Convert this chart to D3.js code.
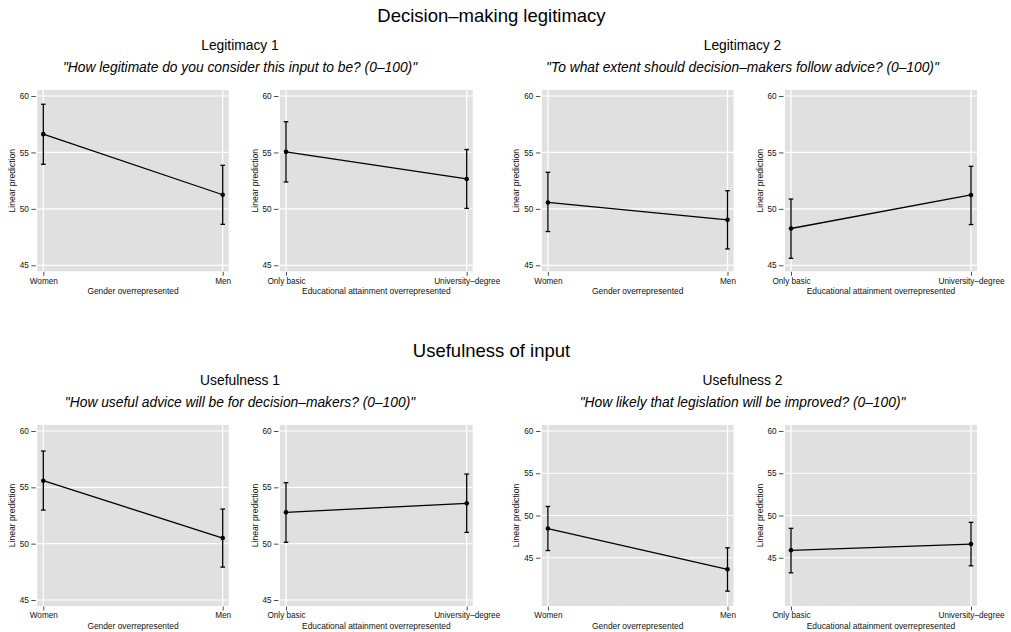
<!DOCTYPE html>
<html>
<head>
<meta charset="utf-8">
<script src="https://cdn.jsdelivr.net/npm/d3@7"></script>
<style>
  body { margin: 0; background: #fff; }
  svg { display: block; font-family: 'Liberation Sans', Arial, Helvetica, sans-serif; }
</style>
</head>
<body>
<div id="chart"></div>
<script>
// categories
const genderLevels = ['Women', 'Men']
const eduLevels = ['Only basic', 'University–degree']
const yTicks = [45, 50, 55, 60]

// titles
const sectionTitles = ['Decision–making legitimacy', 'Usefulness of input']
const groupTitles = ['Legitimacy 1', 'Legitimacy 2', 'Usefulness 1', 'Usefulness 2']
const groupQuestions = [
  '"How legitimate do you consider this input to be? (0–100)"',
  '"To what extent should decision–makers follow advice? (0–100)"',
  '"How useful advice will be for decision–makers? (0–100)"',
  '"How likely that legislation will be improved? (0–100)"'
]

// linear predictions with 95% CI
const legit1GenderFit = [56.62, 51.25]
const legit1GenderLo = [53.95, 48.63]
const legit1GenderHi = [59.27, 53.86]

const legit1EduFit = [55.05, 52.65]
const legit1EduLo = [52.38, 50.04]
const legit1EduHi = [57.72, 55.26]

const legit2GenderFit = [50.57, 49.03]
const legit2GenderLo = [47.99, 46.45]
const legit2GenderHi = [53.24, 51.61]

const legit2EduFit = [48.26, 51.23]
const legit2EduLo = [45.62, 48.61]
const legit2EduHi = [50.87, 53.77]

const useful1GenderFit = [55.59, 50.50]
const useful1GenderLo = [52.98, 47.92]
const useful1GenderHi = [58.22, 53.07]

const useful1EduFit = [52.78, 53.58]
const useful1EduLo = [50.12, 51.00]
const useful1EduHi = [55.41, 56.18]

const useful2GenderFit = [48.46, 43.63]
const useful2GenderLo = [45.85, 41.05]
const useful2GenderHi = [51.07, 46.18]

const useful2EduFit = [45.88, 46.62]
const useful2EduLo = [43.22, 44.05]
const useful2EduHi = [48.48, 49.19]

// y ranges of each panel
const domainStd = [45, 60]
const domainWide = [40, 60]

const width = 1011
const height = 632

// pixel layout (where each panel's data area sits)
const colX = [[43.3, 222.7], [286, 466.7], [547.9, 727.5], [791, 971]]
const rowY = [[96, 265.3], [431, 600]]
const rowShift = 335
const pad = 6

const panels = [
  { row: 0, col: 0, levels: genderLevels, fit: legit1GenderFit, lo: legit1GenderLo, hi: legit1GenderHi, xTitle: 'Gender overrepresented', domain: domainStd },
  { row: 0, col: 1, levels: eduLevels, fit: legit1EduFit, lo: legit1EduLo, hi: legit1EduHi, xTitle: 'Educational attainment overrepresented', domain: domainStd },
  { row: 0, col: 2, levels: genderLevels, fit: legit2GenderFit, lo: legit2GenderLo, hi: legit2GenderHi, xTitle: 'Gender overrepresented', domain: domainStd },
  { row: 0, col: 3, levels: eduLevels, fit: legit2EduFit, lo: legit2EduLo, hi: legit2EduHi, xTitle: 'Educational attainment overrepresented', domain: domainStd },
  { row: 1, col: 0, levels: genderLevels, fit: useful1GenderFit, lo: useful1GenderLo, hi: useful1GenderHi, xTitle: 'Gender overrepresented', domain: domainStd },
  { row: 1, col: 1, levels: eduLevels, fit: useful1EduFit, lo: useful1EduLo, hi: useful1EduHi, xTitle: 'Educational attainment overrepresented', domain: domainStd },
  { row: 1, col: 2, levels: genderLevels, fit: useful2GenderFit, lo: useful2GenderLo, hi: useful2GenderHi, xTitle: 'Gender overrepresented', domain: domainWide },
  { row: 1, col: 3, levels: eduLevels, fit: useful2EduFit, lo: useful2EduLo, hi: useful2EduHi, xTitle: 'Educational attainment overrepresented', domain: domainWide }
]

const svg = d3
  .select('#chart')
  .append('svg')
  .attr('width', width)
  .attr('height', height)

// section + group titles
sectionTitles.forEach((t, i) => {
  const dy = i * rowShift
  svg.append('text')
    .attr('x', 491.5)
    .attr('y', 21.5 + dy)
    .attr('text-anchor', 'middle')
    .attr('font-size', 18.5)
    .attr('fill', '#000')
    .text(t)

  ;[240, 742.5].forEach((cx, j) => {
    svg.append('text')
      .attr('x', cx)
      .attr('y', 50 + dy)
      .attr('text-anchor', 'middle')
      .attr('font-size', 13.8)
      .attr('fill', '#000')
      .text(groupTitles[i * 2 + j])

    svg.append('text')
      .attr('x', cx)
      .attr('y', 72 + dy)
      .attr('text-anchor', 'middle')
      .attr('font-size', 13.8)
      .attr('font-style', 'italic')
      .attr('fill', '#000')
      .text(groupQuestions[i * 2 + j])
  })
})

panels.forEach(p => {
  const [x0, x1] = colX[p.col]
  const [yTop, yBottom] = rowY[p.row]

  const xScale = d3.scalePoint().domain(p.levels).range([x0, x1])
  const yScale = d3.scaleLinear().domain(p.domain).range([yBottom, yTop])

  const g = svg.append('g').attr('class', 'panel')

  const bgLeft = x0 - pad
  const bgRight = x1 + pad
  const bgTop = yTop - pad
  const bgBottom = yBottom + pad

  g.append('rect')
    .attr('x', bgLeft)
    .attr('y', bgTop)
    .attr('width', bgRight - bgLeft)
    .attr('height', bgBottom - bgTop)
    .attr('fill', '#e0e0e0')

  // white grid
  g.selectAll('.hgrid')
    .data(yTicks)
    .enter()
    .append('line')
    .attr('x1', bgLeft)
    .attr('x2', bgRight)
    .attr('y1', d => yScale(d))
    .attr('y2', d => yScale(d))
    .attr('stroke', '#fff')
    .attr('stroke-width', 1.2)

  g.selectAll('.vgrid')
    .data(p.levels)
    .enter()
    .append('line')
    .attr('x1', d => xScale(d))
    .attr('x2', d => xScale(d))
    .attr('y1', bgTop)
    .attr('y2', bgBottom)
    .attr('stroke', '#fff')
    .attr('stroke-width', 1.2)

  // axes
  const yAxis = d3.axisLeft(yScale).tickValues(yTicks).tickSize(4.5).tickPadding(2.5)
  const ya = g.append('g')
    .attr('transform', 'translate(' + (bgLeft - 1.5) + ',0)')
    .attr('font-family', null)
    .call(yAxis)
  ya.attr('font-family', null)
  ya.select('.domain').remove()
  ya.selectAll('text').attr('font-size', 8.2).attr('fill', '#111')
  ya.selectAll('line').attr('stroke', '#222').attr('stroke-width', 0.8)

  const xAxis = d3.axisBottom(xScale).tickSize(4).tickPadding(2)
  const xa = g.append('g')
    .attr('transform', 'translate(0,' + (bgBottom + 0.5) + ')')
    .call(xAxis)
  xa.attr('font-family', null)
  xa.select('.domain').remove()
  xa.selectAll('text').attr('font-size', 8.2).attr('fill', '#111')
  xa.selectAll('line').attr('stroke', '#222').attr('stroke-width', 0.8)

  g.append('text')
    .attr('x', (x0 + x1) / 2)
    .attr('y', bgBottom + 22.5)
    .attr('text-anchor', 'middle')
    .attr('font-size', 8.4)
    .attr('fill', '#111')
    .text(p.xTitle)

  g.append('text')
    .attr('transform', 'translate(' + (bgLeft - 22.5) + ',' + (bgTop + bgBottom) / 2 + ') rotate(-90)')
    .attr('text-anchor', 'middle')
    .attr('font-size', 8.6)
    .attr('fill', '#111')
    .text('Linear prediction')

  const rows = p.levels.map((lev, i) => ({ lev: lev, fit: p.fit[i], lo: p.lo[i], hi: p.hi[i] }))

  // error bars
  g.selectAll('.ci')
    .data(rows)
    .enter()
    .append('line')
    .attr('x1', d => xScale(d.lev))
    .attr('x2', d => xScale(d.lev))
    .attr('y1', d => yScale(d.lo))
    .attr('y2', d => yScale(d.hi))
    .attr('stroke', '#000')
    .attr('stroke-width', 1.3)

  const caps = rows.flatMap(d => [{ lev: d.lev, v: d.lo }, { lev: d.lev, v: d.hi }])
  g.selectAll('.cap')
    .data(caps)
    .enter()
    .append('line')
    .attr('x1', d => xScale(d.lev) - 2.3)
    .attr('x2', d => xScale(d.lev) + 2.3)
    .attr('y1', d => yScale(d.v))
    .attr('y2', d => yScale(d.v))
    .attr('stroke', '#000')
    .attr('stroke-width', 1.3)

  const line = d3.line()
    .x(d => xScale(d.lev))
    .y(d => yScale(d.fit))

  g.append('path')
    .datum(rows)
    .attr('d', line)
    .attr('fill', 'none')
    .attr('stroke', '#000')
    .attr('stroke-width', 1.3)

  g.selectAll('.pt')
    .data(rows)
    .enter()
    .append('circle')
    .attr('cx', d => xScale(d.lev))
    .attr('cy', d => yScale(d.fit))
    .attr('r', 2.3)
    .attr('fill', '#000')
})
</script>
</body>
</html>
